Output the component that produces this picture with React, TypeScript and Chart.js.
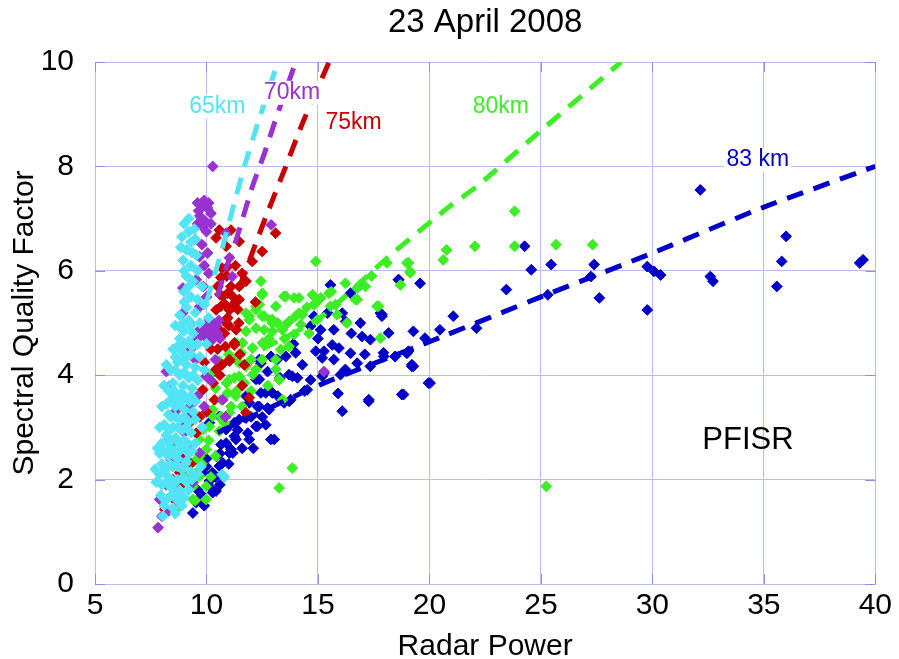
import React, { useEffect, useRef } from "react";
import { Chart, registerables } from "chart.js";

Chart.register(...registerables);

// ---------- data ----------
const chartTitle = "23 April 2008";
const xAxisTitle = "Radar Power";
const yAxisTitle = "Spectral Quality Factor";
const xMin = 5, xMax = 40, xStep = 5;
const yMin = 0, yMax = 10, yStep = 2;

const seriesNames = ["65km", "70km", "75km", "80km", "83 km"];
const seriesColors = ["#52e4f4", "#9a32d2", "#c80000", "#3cee24", "#0000c8"];
const labelX = [10.49, 13.84, 16.6, 23.2, 34.73];
const labelY = [9.14, 9.41, 8.83, 9.14, 8.12];
const siteLabel = "PFISR";
const siteX = 34.29, siteY = 2.75;

const km65Points: number[][] = [
  [9.2,7.0],[9.0,6.9],[9.45,6.8],[8.9,6.65],[9.3,6.55],[9.1,6.4],[9.55,6.3],[8.95,6.2],[9.3,6.1],[9.6,6.0],
  [9.1,5.9],[9.4,5.8],[9.8,5.7],[9.0,5.6],[9.3,5.5],[9.6,5.45],[9.9,5.35],[9.1,5.3],[9.5,5.2],[8.8,5.15],
  [9.2,5.05],[9.7,5.0],[10.1,5.1],[8.85,4.9],[8.6,4.95],[9.0,4.85],[9.4,4.8],[8.8,4.7],[9.2,4.65],[9.6,4.6],
  [8.5,4.5],[8.9,4.45],[9.3,4.4],[9.7,4.35],[8.7,4.25],[9.1,4.2],[9.5,4.15],[8.4,4.1],[8.8,4.0],[9.2,3.95],
  [9.6,3.9],[8.5,3.85],[8.95,3.8],[9.35,3.75],[8.3,3.7],[8.7,3.6],[9.1,3.55],[9.5,3.5],[8.2,3.45],[8.6,3.4],
  [9.0,3.35],[9.4,3.3],[8.4,3.2],[8.8,3.15],[9.2,3.1],[8.1,3.05],[8.5,3.0],[8.9,2.95],[9.3,2.9],[8.2,2.85],
  [8.6,2.8],[9.0,2.75],[9.5,2.7],[8.0,2.7],[8.4,2.6],[8.8,2.55],[9.2,2.5],[7.9,2.5],[8.3,2.45],[8.7,2.4],
  [9.1,2.35],[8.0,2.3],[8.5,2.25],[8.9,2.2],[9.3,2.15],[7.9,2.1],[8.3,2.05],[8.7,2.0],[9.1,1.95],[8.0,1.9],
  [8.4,1.85],[8.8,1.8],[9.2,1.8],[7.95,1.7],[8.3,1.65],[8.7,1.6],[8.1,1.5],[8.5,1.45],[8.9,1.5],[8.05,1.3],
  [8.6,1.35],[9.6,2.1],[9.75,2.25],[10.7,2.1],[10.8,2.05],[9.8,3.0],[9.9,4.1],[10.0,4.6],[7.7,2.2],[7.75,1.95],
  [7.8,2.6],[7.9,3.0],[8.0,3.4],[8.1,3.8],[8.2,4.2],
  [8.15,1.6],[8.45,1.7],[8.75,1.75],[9.0,1.65],[8.25,1.95],[8.6,1.95],[8.95,2.05],[9.35,2.0],[8.15,2.2],[8.35,2.3],
  [8.7,2.25],[9.05,2.3],[8.1,2.55],[8.55,2.55],[8.95,2.6],[9.35,2.55],[8.3,2.7],[8.75,2.7],[9.15,2.7],[8.35,2.95],
  [8.7,3.0],[9.1,3.0],[8.3,3.25],[8.6,3.2],[9.0,3.2],[9.5,3.15],[8.45,3.55],[8.85,3.5],[9.25,3.5],[8.55,3.7],
  [8.9,3.65],[9.3,3.6],[8.6,4.1],[9.0,4.05],[9.4,4.0],[8.6,4.35],[9.0,4.3],[9.35,4.55],[8.7,4.55],[9.05,4.6],
  [8.95,5.0],[9.3,4.95],[9.0,5.4],[9.2,5.7],[9.35,6.35],[9.2,6.75],[8.85,6.45],[9.0,6.0],[9.5,6.6]
];

const km70Points: number[][] = [
  [10.28,8.0],[9.6,7.3],[9.8,7.25],[10.05,7.2],[10.2,7.1],[9.7,7.05],[9.95,6.95],[10.2,6.9],[9.83,6.84],[10.88,6.72],
  [12.9,6.88],[9.5,6.6],[9.8,6.5],[10.05,6.34],[9.69,6.27],[11.03,6.25],[11.16,5.89],[9.9,6.1],[10.1,5.95],[9.54,5.83],
  [8.94,5.67],[9.85,5.7],[10.0,5.5],[9.69,5.31],[10.13,5.06],[9.69,4.87],[9.24,5.0],[8.94,5.19],[10.0,4.95],[10.3,4.9],
  [10.5,4.8],[9.9,4.75],[10.2,4.65],[10.6,4.7],[8.2,4.07],[8.35,3.79],[9.24,3.4],[9.98,3.98],[10.2,3.9],[10.73,3.53],
  [9.24,3.21],[8.35,2.77],[8.42,2.38],[7.9,1.62],[7.83,1.08],[8.65,1.52],[8.2,1.9],[9.69,2.51],[8.8,2.38],[15.27,4.07],
  [9.5,4.3],[8.6,3.3],[9.0,2.9],[8.5,2.0],[9.9,3.4],[10.4,4.3],[9.3,4.5],[10.85,3.2],
  [9.65,7.15],[9.9,7.35],[10.1,7.3],[9.75,6.95],[10.0,6.75],[9.6,6.9],[10.3,5.0],[10.1,4.8],[10.45,4.95],[9.85,4.9],
  [10.25,4.75],[10.55,5.05],[9.6,4.7],[8.6,3.6],[8.9,3.05],[9.6,3.6],[8.5,2.55],[9.2,2.6],[8.3,1.4],[8.0,1.3],
  [9.4,1.95],[8.7,1.75]
];

const km75Points: number[][] = [
  [10.58,6.78],[11.1,6.78],[10.43,6.63],[10.88,6.47],[11.47,6.56],[12.05,6.18],[12.5,6.37],[13.1,6.72],[10.95,6.08],[10.65,5.87],
  [10.5,5.7],[11.1,5.7],[11.47,5.7],[11.77,5.8],[10.73,5.51],[11.17,5.51],[11.47,5.45],[10.43,5.25],[11.03,5.25],[10.88,5.06],
  [11.33,4.87],[10.8,4.8],[10.95,5.57],[10.65,5.32],[11.1,5.29],[11.4,5.26],[10.95,5.1],[10.65,4.84],[11.25,4.58],[11.03,4.27],
  [11.92,3.57],[11.77,3.28],[10.88,5.0],[10.73,4.81],[11.25,4.62],[11.03,4.3],[10.43,4.11],[10.36,3.53],[9.84,3.72],[9.24,3.09],
  [9.54,2.89],[8.5,2.7],[8.8,2.13],[8.8,1.87],[8.13,1.43],[11.17,5.32],[12.2,5.4],[10.2,4.5],[9.9,4.25],[11.7,4.2],[10.6,4.0],
  [10.7,6.05],[11.3,6.1],[10.9,5.9],[11.6,5.95],[10.6,5.55],[11.3,5.4],[10.85,5.35],[11.0,4.95],[11.45,5.0],[10.5,4.5],
  [10.85,4.55],[11.5,4.4],[10.7,4.2],[10.3,3.85],[10.0,3.3],[9.7,3.2],[9.0,2.5],[9.3,2.3],[8.6,1.6],[11.6,3.8]
];

const km80Points: number[][] = [
  [12.44,5.8],[12.51,5.57],[13.48,5.51],[13.93,5.48],[14.75,5.54],[15.12,5.48],[15.49,5.57],[14.82,5.35],[11.77,5.19],[12.22,5.25],
  [12.59,5.13],[12.89,5.06],[13.18,5.0],[13.56,4.97],[12.59,4.87],[12.96,4.84],[12.22,4.9],[14.3,5.16],[14.23,4.97],[13.93,4.78],
  [13.7,4.55],[13.33,4.49],[12.59,4.58],[12.07,4.52],[11.62,4.62],[11.55,4.43],[11.32,4.3],[11.77,4.17],[12.07,4.01],[11.7,3.85],
  [11.25,3.95],[10.95,3.66],[11.32,3.6],[10.65,3.53],[11.1,3.4],[10.65,3.21],[10.8,3.09],[13.26,3.91],[13.41,3.53],[14.97,5.06],
  [16.23,5.76],[16.76,5.67],[17.13,5.7],[16.76,5.45],[17.65,5.32],[17.8,4.71],[14.9,6.18],[18.1,6.15],[18.99,6.15],[19.14,5.96],
  [15.56,5.32],[15.86,5.16],[19.06,6.15],[19.13,5.99],[20.62,6.21],[20.77,6.4],[22.04,6.47],[23.82,7.14],[23.82,6.47],[25.68,6.5],
  [27.32,6.5],[25.24,1.87],[17.72,5.32],[13.85,2.22],[13.26,1.84],[10.58,4.27],[10.28,4.04],[11.47,3.98],[11.33,3.69],[11.03,3.28],
  [10.28,3.21],[10.13,3.02],[10.58,2.93],[9.69,2.77],[9.99,2.58],[9.54,2.38],[9.69,2.07],[9.99,1.87],[9.39,1.87],[12.37,5.35],
  [12.96,5.06],[11.92,5.06],[13.41,4.87],[14.0,5.13],[14.9,5.38],[15.79,5.35],[16.68,5.45],[11.32,4.62],[12.52,4.62],[11.47,4.23],
  [12.22,4.11],[13.11,4.11],[13.26,3.92],[11.03,3.92],[10.28,3.34],[10.73,3.15],[9.84,2.96],[9.69,2.45],[9.54,2.13],[9.24,1.87],
  [9.39,1.62],[9.98,1.62],[9.09,2.07],[8.8,1.49],[12.5,5.54],[13.56,5.51],[14.15,5.48],[12.22,5.32],[13.11,5.32],[11.92,5.13],
  [12.5,5.13],[12.96,5.0],[13.71,5.03],[11.77,4.84],[14.15,5.19],[15.05,5.45],[18.7,5.73],[17.4,5.9],[16.3,5.0],
  [10.4,3.75],[10.9,3.85],[11.6,3.4],[12.0,3.7],[12.5,4.3],[12.8,4.7],[13.5,4.7],[14.5,5.3],[14.6,4.8],[10.1,2.75],
  [10.4,2.45],[9.8,2.3],[9.2,2.35],[10.2,2.05],[9.5,1.6],[12.0,4.3],[11.0,4.4],[15.6,5.6],[13.1,4.3],[12.75,3.8]
];

const km83Points: number[][] = [
  [15.56,5.73],[16.46,5.57],[16.9,5.73],[18.62,5.83],[15.42,5.19],[16.09,5.19],[16.24,5.03],[14.82,5.13],[14.67,4.94],[15.12,4.87],
  [16.9,5.0],[17.35,4.68],[17.8,5.19],[15.71,4.87],[14.9,4.46],[15.27,4.46],[15.94,4.52],[16.46,4.42],[16.76,4.23],[17.35,4.17],
  [17.95,4.36],[18.47,4.36],[18.99,4.42],[19.21,4.17],[15.71,4.3],[16.23,4.11],[16.01,4.01],[15.27,4.04],[14.67,3.91],[14.08,3.95],
  [13.7,4.01],[13.18,4.3],[13.56,4.36],[12.89,4.36],[12.37,4.3],[12.74,4.07],[12.96,3.66],[12.44,3.66],[12.29,3.4],[12.74,3.37],
  [11.92,3.47],[11.77,3.18],[11.25,3.09],[10.88,2.96],[11.25,2.83],[11.85,2.89],[12.29,3.02],[12.66,3.05],[13.04,2.77],[10.65,2.67],
  [11.1,2.58],[16.09,3.31],[17.28,3.5],[18.84,3.63],[13.48,3.47],[13.78,3.53],[14.52,3.72],[19.96,3.85],[19.21,4.2],[12.22,3.02],
  [10.43,2.45],[10.58,2.26],[10.28,2.13],[10.13,1.87],[9.54,1.56],[9.39,1.36],[10.28,1.75],[10.88,2.7],[11.18,2.51],[11.92,2.77],
  [11.47,3.15],[12.37,3.4],[12.81,3.34],[11.77,3.6],[10.58,3.21],[10.13,3.09],[12.44,4.23],[12.37,3.92],[9.69,1.62],[10.43,1.78],
  [10.13,1.97],[9.84,2.13],[10.73,2.32],[11.03,2.51],[11.32,2.77],[12.22,3.92],[12.66,3.66],[12.89,2.77],[13.71,3.5],[13.85,3.98],
  [15.19,3.98],[17.28,3.53],[14.0,4.43],[15.19,4.33],[15.64,4.58],[16.98,4.74],[17.87,5.13],[32.15,7.55],[36.0,6.66],[35.8,6.18],
  [35.58,5.7],[39.45,6.21],[39.3,6.15],[32.6,5.89],[32.72,5.8],[29.77,6.08],[30.07,5.99],[30.37,5.92],[29.77,5.25],[27.39,6.12],
  [27.62,5.48],[27.24,5.89],[25.46,6.12],[24.57,6.02],[24.27,6.47],[23.45,5.64],[25.31,5.54],[21.07,5.13],[20.47,4.87],[22.11,4.9],
  [19.8,4.71],[19.28,4.84],[18.61,5.83],[19.58,5.76],[17.87,5.16],[18.17,4.81],[17.94,4.43],[18.46,4.36],[19.06,4.46],[19.28,4.17],
  [20.03,3.85],[18.76,3.63],[9.9,1.5],[10.0,2.4],[10.6,1.9],
  [9.6,1.8],[9.8,1.7],[10.4,2.05],[10.0,2.25],[10.6,2.5],[11.0,2.3],[11.4,2.95],[11.6,2.6],[12.0,3.2],[12.5,3.2],
  [13.2,3.6],[13.3,3.95],[14.3,4.2],[14.4,3.7],[13.9,4.6],[15.0,4.7],[16.5,4.8],[17.1,4.4],[15.9,3.65],[12.1,2.6]
];

// fitted curves (dashed)
const fit65X = [10.0, 10.65, 11.25, 11.7, 12.3, 13.2];
const fit65Y = [5.4, 6.34, 7.3, 8.0, 8.82, 10.0];
const fit70X = [10.5, 10.8, 11.33, 12.05, 12.6, 13.04, 14.0];
const fit70Y = [5.5, 5.95, 6.59, 7.6, 8.25, 8.82, 10.0];
const fit75X = [11.0, 11.6, 12.05, 12.66, 13.56, 14.3, 15.5];
const fit75Y = [5.2, 5.83, 6.34, 7.03, 8.0, 8.82, 10.0];
const fit80X = [12.5, 15.1, 18.17, 20.8, 22.2, 24.5, 28.6];
const fit80Y = [4.5, 5.1, 6.27, 7.2, 7.64, 8.5, 10.0];
const fit83X = [10.5, 15, 20, 25, 30, 35, 40];
const fit83Y = [2.9, 3.8, 4.64, 5.5, 6.34, 7.22, 8.0];

// ---------- helpers ----------
const FONT = '"Liberation Sans", Arial, Helvetica, sans-serif';
const GRID = "#bcbcee";
const TICKMARK = "#8f8fdc";

const toXY = (pts: number[][]) => pts.map((p) => ({ x: p[0], y: p[1] }));
const zipXY = (xs: number[], ys: number[]) => xs.map((x, i) => ({ x, y: ys[i] }));

const innerTicksPlugin = {
  id: "innerTicks",
  beforeDatasetsDraw(chart: any) {
    const { ctx, chartArea: a, scales } = chart;
    const len = 10;
    ctx.save();
    ctx.strokeStyle = TICKMARK;
    ctx.lineWidth = 1;
    ctx.beginPath();
    for (let v = xMin; v <= xMax; v += xStep) {
      const px = Math.round(scales.x.getPixelForValue(v)) + 0.5;
      ctx.moveTo(px, a.bottom);
      ctx.lineTo(px, a.bottom - len);
      ctx.moveTo(px, a.top);
      ctx.lineTo(px, a.top + len);
    }
    for (let v = yMin; v <= yMax; v += yStep) {
      const py = Math.round(scales.y.getPixelForValue(v)) + 0.5;
      ctx.moveTo(a.left, py);
      ctx.lineTo(a.left + len, py);
      ctx.moveTo(a.right, py);
      ctx.lineTo(a.right - len, py);
    }
    ctx.stroke();
    ctx.restore();
  },
};

const labelsPlugin = {
  id: "seriesLabels",
  afterDatasetsDraw(chart: any) {
    const { ctx, scales } = chart;
    ctx.save();
    ctx.textAlign = "center";
    ctx.textBaseline = "middle";
    ctx.font = `23px ${FONT}`;
    seriesNames.forEach((name, i) => {
      const px = scales.x.getPixelForValue(labelX[i]);
      const py = scales.y.getPixelForValue(labelY[i]);
      const w = ctx.measureText(name).width;
      ctx.fillStyle = "#ffffff";
      ctx.fillRect(px - w / 2 - 2, py - 12, w + 4, 24);
      ctx.fillStyle = seriesColors[i];
      ctx.fillText(name, px, py);
    });
    ctx.font = `31px ${FONT}`;
    ctx.fillStyle = "#000000";
    ctx.fillText(siteLabel, scales.x.getPixelForValue(siteX), scales.y.getPixelForValue(siteY));
    ctx.restore();
  },
};

export default function App() {
  const canvasRef = useRef<HTMLCanvasElement | null>(null);

  useEffect(() => {
    if (!canvasRef.current) return;
    const scatterSets = [km83Points, km80Points, km75Points, km70Points, km65Points];
    const colorIdx = [4, 3, 2, 1, 0];
    const fits = [
      [fit65X, fit65Y, 0],
      [fit70X, fit70Y, 1],
      [fit75X, fit75Y, 2],
      [fit80X, fit80Y, 3],
      [fit83X, fit83Y, 4],
    ] as [number[], number[], number][];

    const datasets: any[] = [];
    fits.forEach(([xs, ys, ci]) => {
      datasets.push({
        type: "line",
        label: "fit " + seriesNames[ci],
        data: zipXY(xs, ys),
        borderColor: seriesColors[ci],
        borderWidth: 5,
        borderDash: [17, 11],
        borderCapStyle: "butt",
        pointRadius: 0,
        fill: false,
        tension: 0.2,
        showLine: true,
        order: 0,
      });
    });
    scatterSets.forEach((pts, k) => {
      const ci = colorIdx[k];
      datasets.push({
        type: "scatter",
        label: seriesNames[ci],
        data: toXY(pts),
        pointStyle: "rectRot",
        pointRadius: 5.4,
        pointHoverRadius: 5.4,
        backgroundColor: seriesColors[ci],
        borderColor: seriesColors[ci],
        borderWidth: 1,
        showLine: false,
        order: 10 - k,
      });
    });

    const chart = new Chart(canvasRef.current, {
      type: "scatter",
      data: { datasets },
      options: {
        animation: false,
        responsive: true,
        maintainAspectRatio: false,
        layout: { padding: { left: 0, right: 20, top: 0, bottom: 0 } },
        plugins: {
          legend: { display: false },
          tooltip: { enabled: false },
          title: {
            display: true,
            fullSize: false,
            text: chartTitle,
            color: "#000",
            font: { family: FONT, size: 33, weight: "normal", lineHeight: 1 },
            padding: { top: 6, bottom: 23 },
          },
        },
        scales: {
          x: {
            type: "linear",
            min: xMin,
            max: xMax,
            afterFit: (s: any) => { s.height = 75; },
            ticks: {
              stepSize: xStep,
              color: "#000",
              font: { family: FONT, size: 30, lineHeight: 1 },
              padding: 7,
              maxRotation: 0,
            },
            grid: { color: GRID, drawTicks: false, lineWidth: 1 },
            border: { color: GRID },
            title: {
              display: true,
              text: xAxisTitle,
              color: "#000",
              font: { family: FONT, size: 30, lineHeight: 1 },
              padding: { top: 0, bottom: -3 },
            },
          },
          y: {
            type: "linear",
            min: yMin,
            max: yMax,
            afterFit: (s: any) => { s.width = 95; },
            ticks: {
              stepSize: yStep,
              color: "#000",
              font: { family: FONT, size: 30, lineHeight: 1 },
              padding: 21,
            },
            grid: { color: GRID, drawTicks: false, lineWidth: 1 },
            border: { color: GRID },
            title: {
              display: true,
              text: yAxisTitle,
              color: "#000",
              font: { family: FONT, size: 30, lineHeight: 1 },
              padding: { top: 10, bottom: 0 },
            },
          },
        },
      },
      plugins: [innerTicksPlugin, labelsPlugin],
    });
    return () => chart.destroy();
  }, []);

  return (
    <div style={{ position: "absolute", left: 0, top: 0, width: 899, height: 659, background: "#fff" }}>
      <canvas ref={canvasRef} />
    </div>
  );
}
